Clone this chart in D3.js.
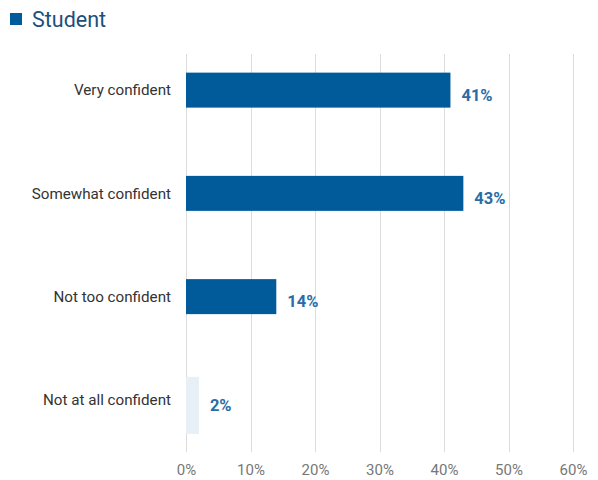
<!DOCTYPE html>
<html>
<head>
<meta charset="utf-8">
<script src="https://cdn.jsdelivr.net/npm/d3@7"></script>
<style>
  html, body { margin: 0; padding: 0; background: #fff; }
  svg text { font-family: Roboto, "Noto Sans", sans-serif; }
</style>
</head>
<body>
<svg id="chart" width="598" height="480"></svg>
<script>
// Survey responses: confidence level of students
const categories = ["Very confident", "Somewhat confident", "Not too confident", "Not at all confident"];
const values = [41, 43, 14, 2];
const seriesName = "Student";
const xTicks = [0, 10, 20, 30, 40, 50, 60];

const svg = d3.select("#chart");
const margin = { left: 186, top: 38.5 };

const x = d3.scaleLinear().domain([0, 60]).range([margin.left, 573]);
const y = d3.scaleBand().domain(categories).range([margin.top, 451.5]).paddingInner(0).paddingOuter(0);

// Legend
svg.append("rect").attr("x", 10).attr("y", 13).attr("width", 12).attr("height", 12).attr("fill", "#015b9b");
svg.append("text").attr("x", 32).attr("y", 27).attr("font-size", 21.5).attr("fill", "#1b4f7c").text(seriesName);

// Vertical gridlines
svg.append("g").selectAll("line").data(xTicks).join("line")
  .attr("x1", d => Math.round(x(d)) + 0.5).attr("x2", d => Math.round(x(d)) + 0.5)
  .attr("y1", 54).attr("y2", 452)
  .attr("stroke", "#dcdcdc").attr("stroke-width", 1);

// Bottom axis labels
const xAxis = d3.axisBottom(x).tickValues(xTicks).tickFormat(d => d + "%").tickSize(0).tickPadding(0);
const gx = svg.append("g").attr("transform", "translate(0,461)").call(xAxis);
gx.select(".domain").remove();
gx.selectAll("text")
  .attr("font-family", "'Open Sans', 'Noto Sans', sans-serif")
  .attr("font-size", 15).attr("fill", "#777").attr("dy", "0.9em");

// Category labels
svg.append("g").selectAll("text").data(categories).join("text")
  .attr("x", 171).attr("y", d => y(d) + y.bandwidth() / 2)
  .attr("dy", "0.35em").attr("text-anchor", "end")
  .attr("font-size", 15.2).attr("fill", "#333")
  .text(d => d);

// Bars
const barH = 35;
const data = categories.map((c, i) => ({ c, v: values[i], i }));
svg.append("g").selectAll("rect").data(data).join("rect")
  .attr("x", x(0))
  .attr("y", d => d.i === 3 ? y(d.c) + y.bandwidth() / 2 - 23 : y(d.c) + y.bandwidth() / 2 - barH / 2)
  .attr("width", d => x(d.v) - x(0))
  .attr("height", d => d.i === 3 ? 57 : barH)
  .attr("fill", d => d.i === 3 ? "#e6f0f6" : "#015b9b");

// Value labels
svg.append("g").selectAll("text").data(data).join("text")
  .attr("x", d => x(d.v) + 11)
  .attr("y", d => y(d.c) + y.bandwidth() / 2 + 5)
  .attr("dy", "0.35em")
  .attr("font-size", 16.5).attr("font-weight", "bold").attr("fill", "#2a6ca6")
  .text(d => d.v + "%");
</script>
</body>
</html>
